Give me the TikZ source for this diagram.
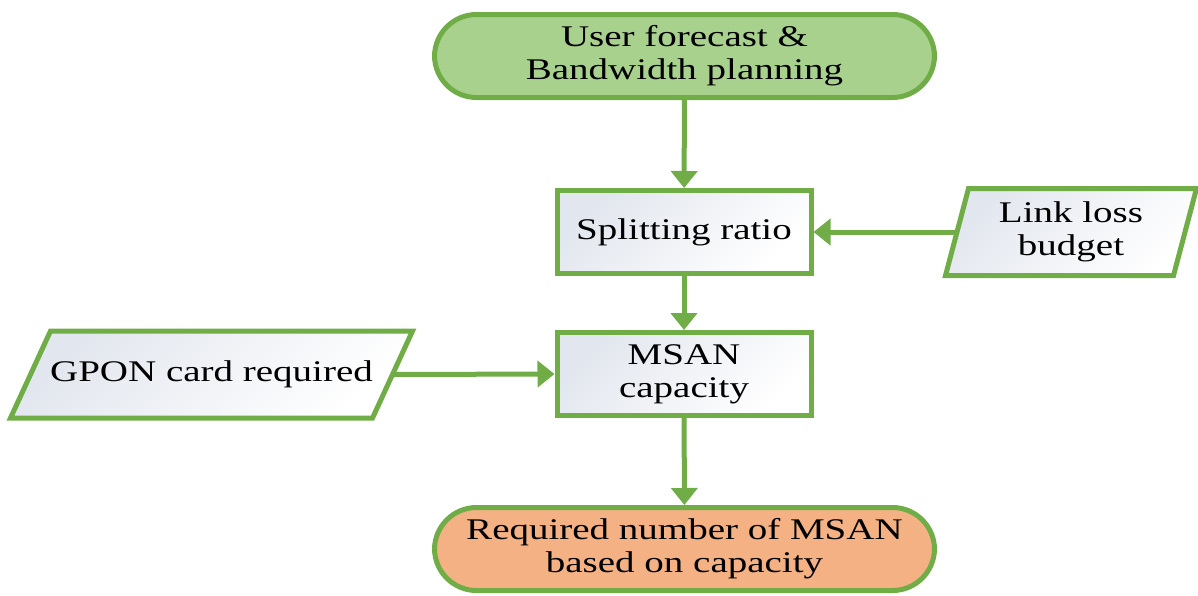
\documentclass[tikz,border=0pt]{standalone}
\usepackage{fontspec}
\setmainfont{Liberation Serif}[FakeStretch=1.3]
\usetikzlibrary{arrows.meta,backgrounds}
\definecolor{gborder}{HTML}{70AD47}
\definecolor{gfill}{HTML}{A9D18E}
\definecolor{ofill}{HTML}{F4B183}
\definecolor{boxtop}{HTML}{E2E6EE}
\tikzset{
  base/.style={draw=gborder, line width=5pt, inner sep=0pt, align=center,
    font=\fontsize{30}{33}\selectfont, text=black},
  term/.style={base, rectangle, rounded corners=42pt, minimum width=500pt, minimum height=83pt},
  procbox/.style={base, rectangle, minimum width=254pt, minimum height=83pt,
    top color=boxtop, bottom color=white, shading angle=45},
  iotext/.style={base, draw=none, rectangle, minimum height=82pt},
  iopath/.style={draw=gborder, line width=5pt, top color=boxtop, bottom color=white, shading angle=45},
  flow/.style={draw=gborder, line width=5pt, -{Triangle[length=17pt,width=26pt]}}
}
\begin{document}
\begin{tikzpicture}[x=1pt,y=-1pt]
\useasboundingbox (0,0) rectangle (1198,595);
\node[term, fill=gfill] (start) at (684.5,56) {User forecast \&\\Bandwidth planning};
\node[procbox] (split) at (684,232) {Splitting ratio};
\node[procbox] (msan) at (684,374) {MSAN\\capacity};
\node[iotext, minimum width=223pt] (link) at (1071,232) {Link loss\\budget};
\node[iotext, minimum width=357pt] (gpon) at (211.5,374.5) {GPON card required};
\node[term, fill=ofill] (result) at (684.5,549) {Required number of MSAN\\based on capacity};
\begin{scope}[on background layer]
\path[iopath] ([xshift=11.5pt]link.north west) -- ([xshift=11.5pt]link.north east)
  -- ([xshift=-11.5pt]link.south east) -- ([xshift=-11.5pt]link.south west) -- cycle;
\path[iopath] ([xshift=20pt]gpon.north west) -- ([xshift=20pt]gpon.north east)
  -- ([xshift=-20pt]gpon.south east) -- ([xshift=-20pt]gpon.south west) -- cycle;
\end{scope}
\draw[flow] (start) -- (split);
\draw[flow] (split) -- (msan);
\draw[flow] (msan) -- (result);
\draw[flow] (link.west) -- (split.east);
\draw[flow] (gpon.east) -- (msan.west);
\end{tikzpicture}
\end{document}
